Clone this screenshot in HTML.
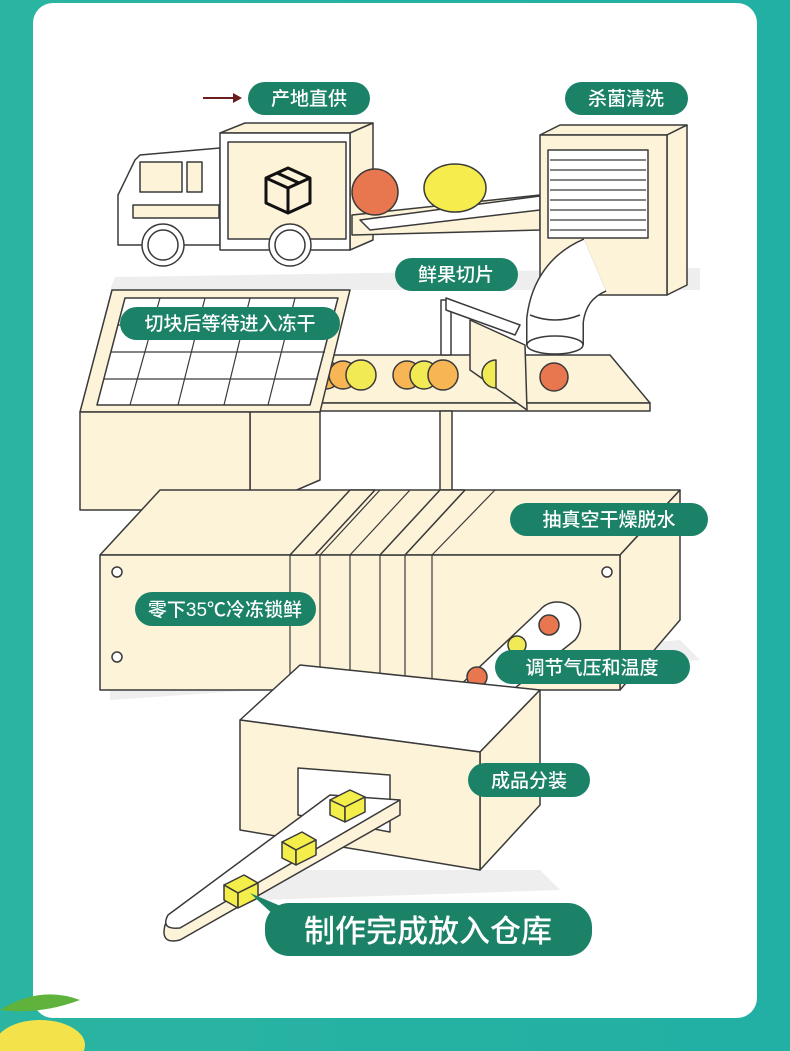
<!DOCTYPE html>
<html><head><meta charset="utf-8"><style>
html,body{margin:0;padding:0;width:790px;height:1051px;overflow:hidden;background:#27b3a2}
svg{display:block}
.t{font-family:"Liberation Sans","Noto Sans CJK SC",sans-serif;fill:#fff;font-weight:500}
</style></head><body>
<svg width="790" height="1051" viewBox="0 0 790 1051" xmlns="http://www.w3.org/2000/svg">
<defs><linearGradient id="bg" x1="0" y1="0" x2="1" y2="0"><stop offset="0" stop-color="#2ab4a2"/><stop offset="1" stop-color="#22b0a4"/></linearGradient></defs>
<rect width="790" height="1051" fill="url(#bg)"/>
<rect x="33" y="3" width="724" height="1015" rx="20" fill="#fff"/>
<g stroke="#3a3a3a" stroke-width="1.5" fill="#fdf3d9" stroke-linejoin="round">
<polygon points="115,277 700,268 700,290 110,290" fill="#eeeeee" stroke="none"/>
<polygon points="110,690 680,640 700,660 110,700" fill="#eeeeee" stroke="none"/>
<polygon points="240,870 540,870 560,890 260,900" fill="#eeeeee" stroke="none"/>
<polygon points="140,155 220,148 220,245 118,245 118,195 135,160" fill="#fff"/>
<rect x="140" y="162" width="42" height="30" />
<rect x="187" y="162" width="15" height="30"/>
<rect x="133" y="205" width="86" height="13"/>
<polygon points="220,133 245,123 373,123 350,133"/>
<polygon points="350,133 373,123 373,240 350,250"/>
<rect x="220" y="133" width="130" height="117" fill="#fff"/>
<rect x="228" y="142" width="118" height="97"/>
<circle cx="163" cy="245" r="21" fill="#fff"/><circle cx="163" cy="245" r="15" fill="#fff"/>
<circle cx="290" cy="245" r="21" fill="#fff"/><circle cx="290" cy="245" r="15" fill="#fff"/>
<g fill="none" stroke="#111" stroke-width="3"><polygon points="288,168 310,178 310,203 288,213 266,203 266,178"/><polyline points="266,178 288,188 310,178"/><line x1="288" y1="188" x2="288" y2="213"/><line x1="277" y1="173" x2="299" y2="183"/></g>
<polygon points="352,215 540,195 540,230 352,235" />
<polygon points="360,220 540,196 540,210 370,230" fill="#fff"/>
<circle cx="375" cy="192" r="23" fill="#e8774f"/>
<ellipse cx="455" cy="188" rx="31" ry="24" fill="#f7ec4e"/>
<polygon points="540,135 560,125 687,125 667,135"/>
<polygon points="667,135 687,125 687,285 667,295"/>
<rect x="540" y="135" width="127" height="160"/>
<rect x="548" y="150" width="100" height="88" fill="#fff"/>
<g stroke-width="1.2"><line x1="550" y1="160" x2="646" y2="160"/><line x1="550" y1="170" x2="646" y2="170"/><line x1="550" y1="180" x2="646" y2="180"/><line x1="550" y1="190" x2="646" y2="190"/><line x1="550" y1="200" x2="646" y2="200"/><line x1="550" y1="210" x2="646" y2="210"/><line x1="550" y1="220" x2="646" y2="220"/><line x1="550" y1="230" x2="646" y2="230"/></g>
<!-- pipe elbow -->
<path d="M595,265 Q560,280 555,320 L555,345" fill="none" stroke="#3a3a3a" stroke-width="58" stroke-linecap="butt"/>
<path d="M595,265 Q560,280 555,320 L555,345" fill="none" stroke="#ffffff" stroke-width="55" stroke-linecap="butt"/>
<ellipse cx="555" cy="345" rx="28" ry="9" fill="#fff"/>
<path d="M530,315 Q555,325 580,315" fill="none"/>
<polygon points="270,395 300,355 610,355 650,403 270,403"/>
<rect x="270" y="403" width="380" height="8"/>
<rect x="440" y="411" width="12" height="80"/>
<rect x="441" y="300" width="10" height="55" fill="#fff"/>
<polygon points="446,298 520,325 515,335 446,310" fill="#fff"/>
<polygon points="470,320 525,345 527,410 470,370"/>
<circle cx="326" cy="375" r="14" fill="#f7b653"/><circle cx="343" cy="375" r="14" fill="#f7b653"/><circle cx="361" cy="375" r="15" fill="#f2ea54"/>
<circle cx="407" cy="375" r="14" fill="#f7b653"/><circle cx="424" cy="375" r="14" fill="#f2ea54"/><circle cx="443" cy="375" r="15" fill="#f7b653"/>
<path d="M496,360 A14,14 0 0 0 496,388 Z" fill="#f2ea54"/>
<circle cx="554" cy="377" r="14" fill="#e8774f"/>
<polygon points="80,412 112,290 350,290 320,412"/>
<polygon points="97,405 125,298 338,298 310,405" fill="#fff"/>
<g stroke-width="1.2"><line x1="160" y1="298" x2="130" y2="405"/><line x1="205" y1="298" x2="178" y2="405"/><line x1="250" y1="298" x2="224" y2="405"/><line x1="295" y1="298" x2="268" y2="405"/><line x1="118" y1="325" x2="332" y2="325"/><line x1="111" y1="352" x2="325" y2="352"/><line x1="104" y1="379" x2="318" y2="379"/></g>
<polygon points="250,412 320,412 320,480 250,510"/>
<rect x="80" y="412" width="170" height="98"/>
<rect x="165" y="505" width="70" height="30" rx="4"/>
<polygon points="100,555 160,490 680,490 620,555"/>
<polygon points="620,555 680,490 680,620 620,690"/>
<rect x="100" y="555" width="520" height="135"/>
<g fill="#fdf3d9"><polygon points="290,555 350,490 375,490 315,555"/><polygon points="380,555 440,490 465,490 405,555"/></g>
<g stroke-width="1.2"><line x1="290" y1="555" x2="290" y2="690"/><line x1="320" y1="555" x2="320" y2="690"/><line x1="350" y1="555" x2="350" y2="690"/><line x1="380" y1="555" x2="380" y2="690"/><line x1="405" y1="555" x2="405" y2="690"/><line x1="432" y1="555" x2="432" y2="690"/>
<line x1="320" y1="555" x2="380" y2="490"/><line x1="350" y1="555" x2="410" y2="490"/><line x1="405" y1="555" x2="465" y2="490"/><line x1="432" y1="555" x2="495" y2="490"/></g>
<circle cx="117" cy="572" r="5" fill="#fff"/><circle cx="117" cy="657" r="5" fill="#fff"/><circle cx="607" cy="572" r="5" fill="#fff"/>
<path d="M455,690 L540,610 A22,22 0 0 1 575,640 L500,700 Z" fill="#fff"/>
<circle cx="549" cy="625" r="10" fill="#e8774f"/><circle cx="517" cy="645" r="9" fill="#f2ea54"/><circle cx="477" cy="677" r="10" fill="#e8774f"/>
<polygon points="240,720 300,665 540,690 480,752" fill="#fff"/>
<polygon points="480,752 540,690 540,805 480,870"/>
<polygon points="240,720 480,752 480,870 240,830"/>
<polygon points="298,768 390,775 390,832 298,815" fill="#fff"/>
<path d="M170,915 L400,800 L400,815 L180,940 Q160,945 165,925 Z"/>
<path d="M168,915 L330,795 L400,800 L180,928 Q160,930 168,915 Z" fill="#fff"/>
<g fill="#f4ee4a"><polygon points="330,800 350,790 365,797 345,807"/><polygon points="330,800 345,807 345,822 330,815"/><polygon points="345,807 365,797 365,812 345,822"/>
<polygon points="282,842 302,832 316,840 296,850"/><polygon points="282,842 296,850 296,865 282,858"/><polygon points="296,850 316,840 316,855 296,865"/>
<polygon points="224,885 244,875 258,883 238,893"/><polygon points="224,885 238,893 238,908 224,900"/><polygon points="238,893 258,883 258,898 238,908"/></g>
</g>
<line x1="203" y1="98" x2="235" y2="98" stroke="#6b1e1e" stroke-width="2"/><polygon points="242,98 233,93 233,103" fill="#6b1e1e"/>
<g fill="#1b8268">
<rect x="248" y="82" width="122" height="33" rx="16.5"/>
<rect x="565" y="82" width="123" height="33" rx="16.5"/>
<rect x="395" y="258" width="123" height="33" rx="16.5"/>
<rect x="120" y="307" width="220" height="33" rx="16.5"/>
<rect x="510" y="503" width="198" height="33" rx="16.5"/>
<rect x="135" y="592" width="181" height="34" rx="17"/>
<rect x="495" y="650" width="195" height="34" rx="17"/>
<rect x="468" y="763" width="122" height="34" rx="17"/>
<polygon points="250,893 290,910 290,930"/>
<rect x="265" y="903" width="327" height="53" rx="24"/>
</g>
<g class="t" font-size="19">
<text x="309" y="105" text-anchor="middle">产地直供</text>
<text x="626" y="105" text-anchor="middle">杀菌清洗</text>
<text x="456" y="281" text-anchor="middle">鲜果切片</text>
<text x="230" y="330" text-anchor="middle">切块后等待进入冻干</text>
<text x="609" y="526" text-anchor="middle">抽真空干燥脱水</text>
<text x="225" y="616" text-anchor="middle">零下35℃冷冻锁鲜</text>
<text x="592" y="674" text-anchor="middle">调节气压和温度</text>
<text x="529" y="787" text-anchor="middle">成品分装</text>
<text x="428" y="942" text-anchor="middle" font-size="31">制作完成放入仓库</text>
</g>
<ellipse cx="40" cy="1045" rx="45" ry="25" fill="#f3e24a"/>
<path d="M0,1010 Q40,985 80,1000 Q40,1015 0,1010Z" fill="#5fb33c"/>
</svg>
</body></html>
